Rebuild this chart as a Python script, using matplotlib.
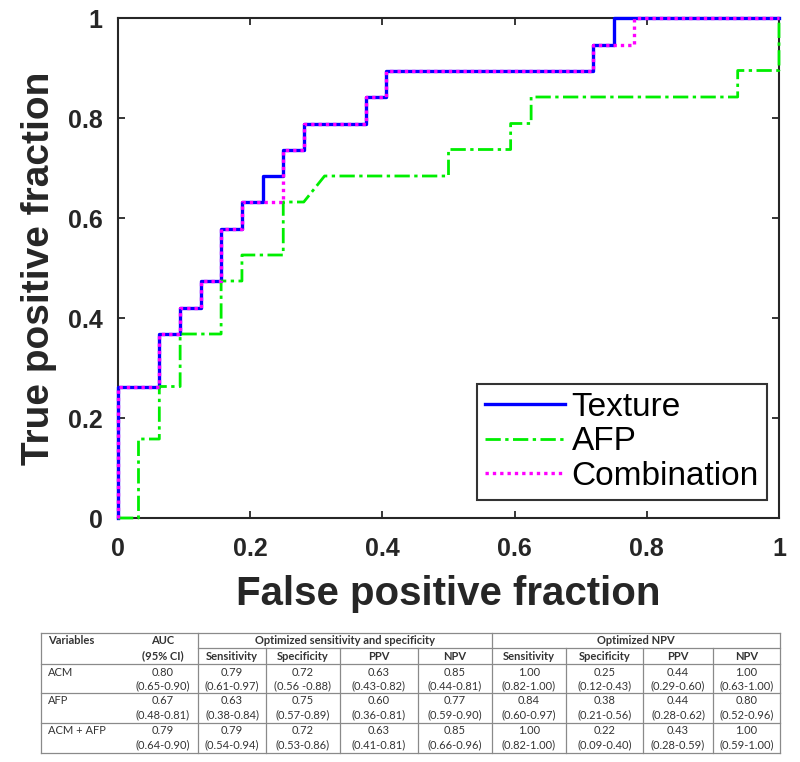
import numpy as np
import matplotlib
matplotlib.use("Agg")
import matplotlib.pyplot as plt

# ROC vertices
texture_fpr = [0, 0, 0.0625, 0.0625, 0.094, 0.094, 0.125, 0.125, 0.156, 0.156, 0.1875, 0.1875,
               0.219, 0.219, 0.25, 0.25, 0.281, 0.281, 0.375, 0.375, 0.406, 0.406, 0.719, 0.719,
               0.75, 0.75, 1.0]
texture_tpr = [0, 0.263, 0.263, 0.368, 0.368, 0.421, 0.421, 0.474, 0.474, 0.579, 0.579, 0.632,
               0.632, 0.684, 0.684, 0.737, 0.737, 0.789, 0.789, 0.842, 0.842, 0.895, 0.895, 0.947,
               0.947, 1.0, 1.0]

afp_fpr = [0, 0.031, 0.031, 0.0625, 0.0625, 0.094, 0.094, 0.156, 0.156, 0.1875, 0.1875, 0.25,
           0.25, 0.281, 0.3125, 0.5, 0.5, 0.594, 0.594, 0.625, 0.625, 0.9375, 0.9375, 1.0, 1.0]
afp_tpr = [0, 0, 0.158, 0.158, 0.263, 0.263, 0.368, 0.368, 0.474, 0.474, 0.526, 0.526,
           0.632, 0.632, 0.684, 0.684, 0.737, 0.737, 0.789, 0.789, 0.842, 0.842, 0.895, 0.895, 1.0]

combo_fpr = [0, 0, 0.0625, 0.0625, 0.094, 0.094, 0.125, 0.125, 0.156, 0.156, 0.1875, 0.1875,
             0.25, 0.25, 0.281, 0.281, 0.375, 0.375, 0.406, 0.406, 0.719, 0.719,
             0.781, 0.781, 1.0]
combo_tpr = [0, 0.263, 0.263, 0.368, 0.368, 0.421, 0.421, 0.474, 0.474, 0.579, 0.579, 0.632,
             0.632, 0.737, 0.737, 0.789, 0.789, 0.842, 0.842, 0.895, 0.895, 0.947,
             0.947, 1.0, 1.0]

ticks = [0, 0.2, 0.4, 0.6, 0.8, 1]
tick_labels = ["0", "0.2", "0.4", "0.6", "0.8", "1"]

# table contents
group_headers = ["Optimized sensitivity and specificity", "Optimized NPV"]
sub_headers = ["Sensitivity", "Specificity", "PPV", "NPV"] * 2
row_names = ["ACM", "AFP", "ACM + AFP"]
auc_vals = [("0.80", "(0.65-0.90)"), ("0.67", "(0.48-0.81)"), ("0.79", "(0.64-0.90)")]
cell_vals = [
    [("0.79", "(0.61-0.97)"), ("0.72", "(0.56 -0.88)"), ("0.63", "(0.43-0.82)"), ("0.85", "(0.44-0.81)"),
     ("1.00", "(0.82-1.00)"), ("0.25", "(0.12-0.43)"), ("0.44", "(0.29-0.60)"), ("1.00", "(0.63-1.00)")],
    [("0.63", "(0.38-0.84)"), ("0.75", "(0.57-0.89)"), ("0.60", "(0.36-0.81)"), ("0.77", "(0.59-0.90)"),
     ("0.84", "(0.60-0.97)"), ("0.38", "(0.21-0.56)"), ("0.44", "(0.28-0.62)"), ("0.80", "(0.52-0.96)")],
    [("0.79", "(0.54-0.94)"), ("0.72", "(0.53-0.86)"), ("0.63", "(0.41-0.81)"), ("0.85", "(0.66-0.96)"),
     ("1.00", "(0.82-1.00)"), ("0.22", "(0.09-0.40)"), ("0.43", "(0.28-0.59)"), ("1.00", "(0.59-1.00)")],
]

W, H = 800, 762
fig = plt.figure(figsize=(W / 100, H / 100), dpi=100)
plt.rcParams['font.family'] = ['Liberation Sans', 'DejaVu Sans']

ax = fig.add_axes([118 / W, 1 - 518 / H, 661 / W, 500 / H])
ax.plot(texture_fpr, texture_tpr, color='#0000ff', lw=2.4, label='Texture', clip_on=False, zorder=3)
ax.plot(afp_fpr, afp_tpr, color='#00ee00', lw=2.0, dashes=(5.5, 1.6, 1.2, 1.6), label='AFP',
        clip_on=False, zorder=3)
ax.plot(combo_fpr, combo_tpr, color='#ff00ff', lw=2.4, linestyle=(0, (1, 1.2)), label='Combination',
        clip_on=False, zorder=4)

ax.set_xlim(0, 1)
ax.set_ylim(0, 1)
ax.set_xticks(ticks)
ax.set_yticks(ticks)
ax.set_xticklabels(tick_labels)
ax.set_yticklabels(tick_labels)
ax.tick_params(direction='in', length=5, width=1.3, top=True, right=True, colors='#262626',
               labelsize=18)
ax.tick_params(axis='x', pad=14)
ax.tick_params(axis='y', pad=11)
for lab in ax.get_xticklabels() + ax.get_yticklabels():
    lab.set_fontweight('bold')
for sp in ax.spines.values():
    sp.set_linewidth(1.5)
    sp.set_color('#262626')

ax.set_xlabel('False positive fraction', fontsize=29, fontweight='bold', color='#262626', labelpad=10)
ax.set_ylabel('True positive fraction', fontsize=28, fontweight='bold', color='#262626', labelpad=8)

leg = ax.legend(loc='lower right', bbox_to_anchor=(0.982, 0.036), fontsize=24, frameon=True,
                fancybox=False, edgecolor='black', handlelength=2.4, handletextpad=0.2,
                borderpad=0.25, labelspacing=0.1, borderaxespad=0)
leg.get_frame().set_linewidth(1.5)

# table drawn in pixel coordinates
tx = fig.add_axes([0, 0, 1, 1])
tx.set_xlim(0, W)
tx.set_ylim(H, 0)
tx.axis('off')

x_left, x_g1, x_g2, x_right = 41, 198, 492, 780
col_edges = [198, 266, 340, 418, 492, 566, 643, 713, 780]
y_top, y_h1, y_h2 = 633, 648, 664
row_edges = [664, 693, 723, 753]
lc = '#8a8a8a'
lw = 0.9

for y in [y_top, y_h2] + row_edges[1:]:
    tx.plot([x_left, x_right], [y, y], color=lc, lw=lw)
tx.plot([x_g1, x_right], [y_h1, y_h1], color=lc, lw=lw)
for x in [x_left, x_g1, x_g2, x_right]:
    tx.plot([x, x], [y_top, row_edges[-1]], color=lc, lw=lw)
for x in col_edges[1:4] + col_edges[5:8]:
    tx.plot([x, x], [y_h1, row_edges[-1]], color=lc, lw=lw)

tfont = dict(family=['Lato', 'DejaVu Sans'], fontsize=8, color='#333333')
tx.text(48, 641, 'Variables', ha='left', va='center', fontweight='bold', **tfont)
tx.text(163, 641, 'AUC', ha='center', va='center', fontweight='bold', **tfont)
tx.text(163, 656, '(95% CI)', ha='center', va='center', fontweight='bold', **tfont)
tx.text((x_g1 + x_g2) / 2, 641, group_headers[0], ha='center', va='center', fontweight='bold', **tfont)
tx.text((x_g2 + x_right) / 2, 641, group_headers[1], ha='center', va='center', fontweight='bold', **tfont)
for i, name in enumerate(sub_headers):
    xc = (col_edges[i] + col_edges[i + 1]) / 2
    tx.text(xc, 656, name, ha='center', va='center', fontweight='bold', **tfont)

for r, name in enumerate(row_names):
    top = row_edges[r]
    tx.text(48, top + 8, name, ha='left', va='center', **tfont)
    tx.text(163, top + 8, auc_vals[r][0], ha='center', va='center', **tfont)
    tx.text(163, top + 22, auc_vals[r][1], ha='center', va='center', **tfont)
    for c, (v, ci) in enumerate(cell_vals[r]):
        xc = (col_edges[c] + col_edges[c + 1]) / 2
        tx.text(xc, top + 8, v, ha='center', va='center', **tfont)
        tx.text(xc, top + 22, ci, ha='center', va='center', **tfont)

fig.savefig('out.png', dpi=100)
